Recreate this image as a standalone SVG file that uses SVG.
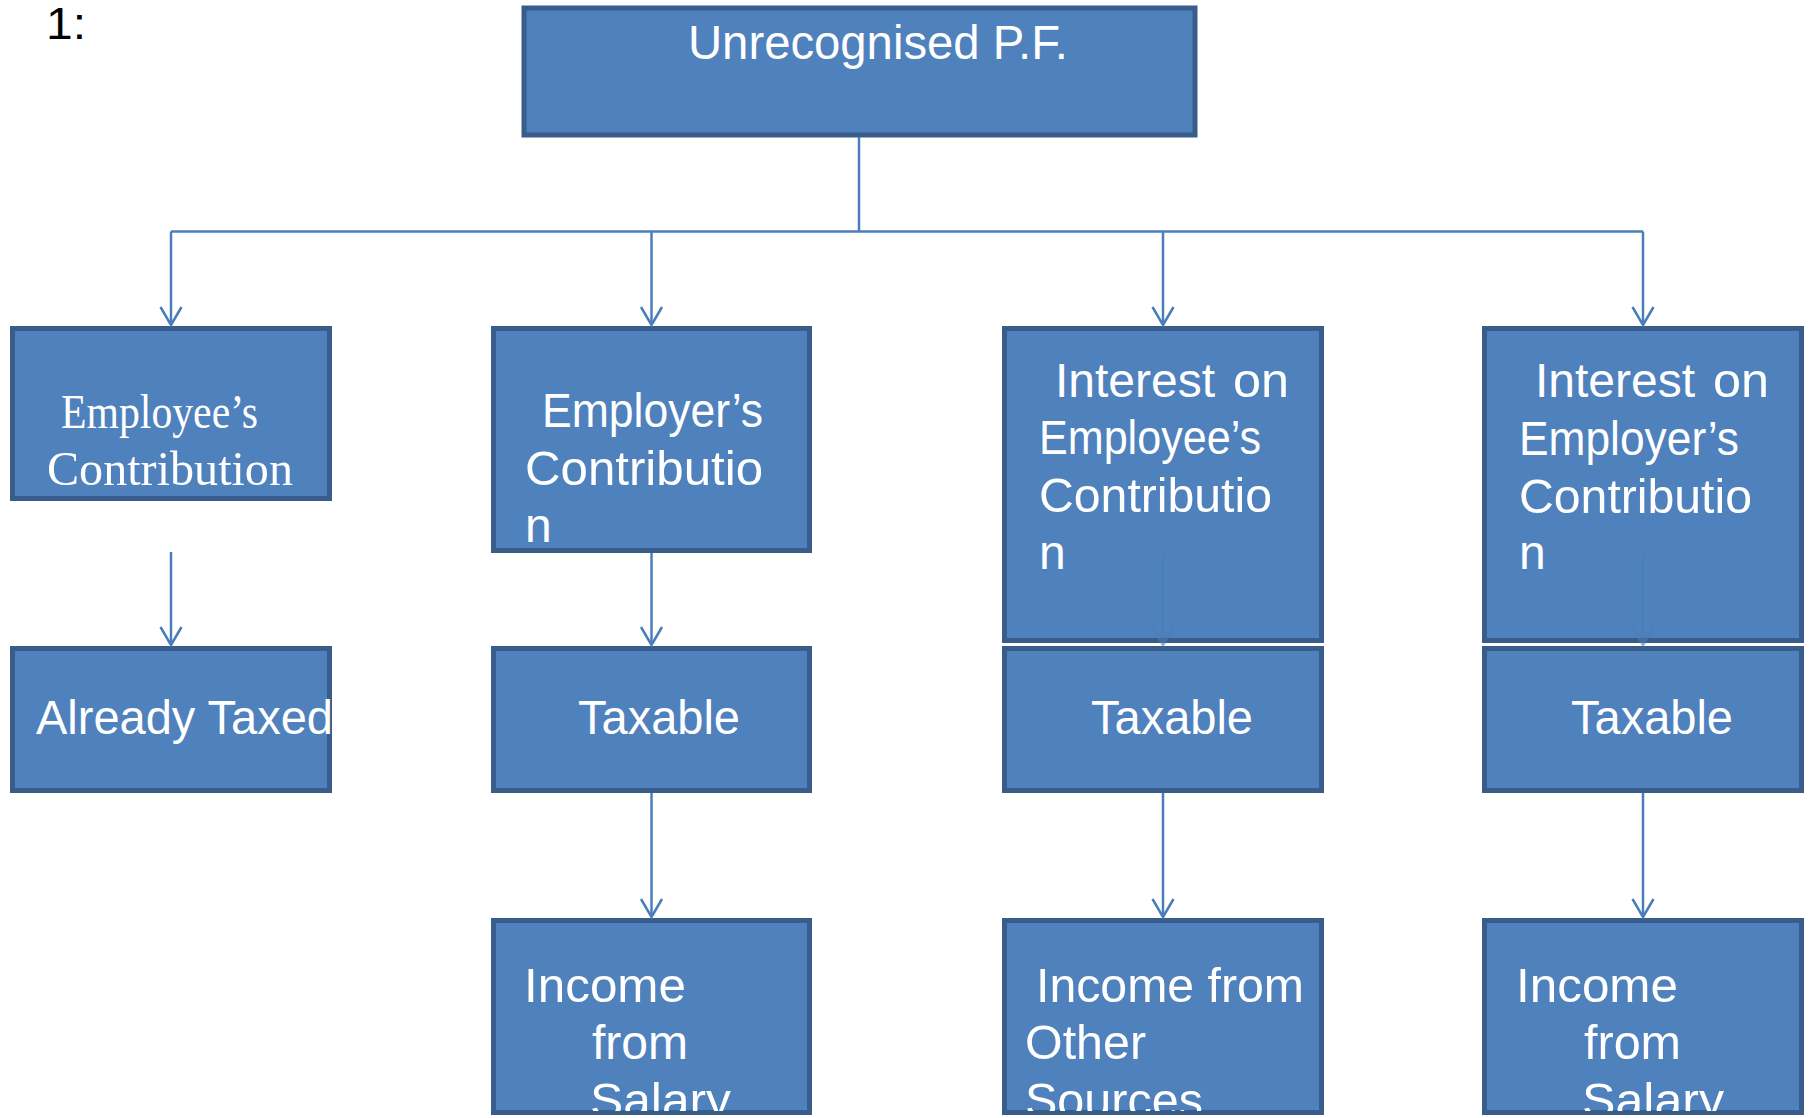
<svg xmlns="http://www.w3.org/2000/svg" width="1811" height="1118" viewBox="0 0 1811 1118">
  <defs>
    <style>
      .box { fill: #4F81BD; stroke: #385D8A; stroke-width: 5; }
      .t { fill: #FFFFFF; font-family: "Liberation Sans", Arial, sans-serif; font-size: 48px; }
      .ts { fill: #FFFFFF; font-family: "Liberation Serif", "Times New Roman", serif; font-size: 48px; }
      .conn { fill: none; stroke: #4A7EBB; stroke-width: 2.5; }
      .label { fill: #000000; font-family: "Liberation Sans", Arial, sans-serif; font-size: 44px; }
    </style>
    <marker id="arrow" markerUnits="userSpaceOnUse" viewBox="-22 -14 26 28" markerWidth="26" markerHeight="28" refX="0" refY="0" orient="auto" overflow="visible">
      <path d="M-18,-10.5 L0,0 L-18,10.5" fill="none" stroke="#4A7EBB" stroke-width="2.5"/>
    </marker>
    <clipPath id="clipBottom">
      <rect x="0" y="0" width="1811" height="1111"/>
    </clipPath>
  </defs>

  <rect x="0" y="0" width="1811" height="1118" fill="#FFFFFF"/>

  <text class="label" x="46" y="39" textLength="40" lengthAdjust="spacingAndGlyphs">1:</text>

  <g id="node-root">
    <rect class="box" x="524" y="8" width="671" height="127"/>
    <text class="t" x="688" y="59" textLength="380" lengthAdjust="spacingAndGlyphs">Unrecognised P.F.</text>
  </g>

  <g id="node-employee-contribution">
    <rect class="box" x="12.5" y="328.5" width="317" height="170"/>
    <text class="ts" x="61" y="428" textLength="197" lengthAdjust="spacingAndGlyphs">Employee’s</text>
    <text class="ts" x="47" y="485" textLength="246" lengthAdjust="spacingAndGlyphs">Contribution</text>
  </g>

  <g id="node-employer-contribution">
    <rect class="box" x="493.5" y="328.5" width="316" height="222"/>
    <text class="t" x="542" y="427" textLength="221" lengthAdjust="spacingAndGlyphs">Employer’s</text>
    <text class="t" x="525" y="485" textLength="238" lengthAdjust="spacingAndGlyphs">Contributio</text>
    <text class="t" x="525" y="542">n</text>
  </g>

  <g id="node-interest-employee">
    <rect class="box" x="1004.5" y="328.5" width="317" height="312"/>
    <text class="t" y="397"><tspan x="1055" textLength="160" lengthAdjust="spacingAndGlyphs">Interest</tspan><tspan x="1233" textLength="56" lengthAdjust="spacingAndGlyphs">on</tspan></text>
    <text class="t" x="1039" y="454" textLength="222" lengthAdjust="spacingAndGlyphs">Employee’s</text>
    <text class="t" x="1039" y="512" textLength="233" lengthAdjust="spacingAndGlyphs">Contributio</text>
    <text class="t" x="1039" y="569">n</text>
  </g>

  <g id="node-interest-employer">
    <rect class="box" x="1484.5" y="328.5" width="317" height="312"/>
    <text class="t" y="397"><tspan x="1535" textLength="160" lengthAdjust="spacingAndGlyphs">Interest</tspan><tspan x="1713" textLength="56" lengthAdjust="spacingAndGlyphs">on</tspan></text>
    <text class="t" x="1519" y="455" textLength="220" lengthAdjust="spacingAndGlyphs">Employer’s</text>
    <text class="t" x="1519" y="513" textLength="233" lengthAdjust="spacingAndGlyphs">Contributio</text>
    <text class="t" x="1519" y="569">n</text>
  </g>

  <g id="node-already-taxed">
    <rect class="box" x="12.5" y="648.5" width="317" height="142"/>
    <text class="t" x="36" y="734" textLength="297" lengthAdjust="spacingAndGlyphs">Already Taxed</text>
  </g>

  <g id="node-taxable-1">
    <rect class="box" x="493.5" y="648.5" width="316" height="142"/>
    <text class="t" x="578" y="734" textLength="162" lengthAdjust="spacingAndGlyphs">Taxable</text>
  </g>

  <g id="node-taxable-2">
    <rect class="box" x="1004.5" y="648.5" width="317" height="142"/>
    <text class="t" x="1091" y="734" textLength="162" lengthAdjust="spacingAndGlyphs">Taxable</text>
  </g>

  <g id="node-taxable-3">
    <rect class="box" x="1484.5" y="648.5" width="317" height="142"/>
    <text class="t" x="1571" y="734" textLength="162" lengthAdjust="spacingAndGlyphs">Taxable</text>
  </g>

  <g id="node-income-salary-1">
    <rect class="box" x="493.5" y="920.5" width="316" height="192"/>
    <g clip-path="url(#clipBottom)">
      <text class="t" x="524" y="1002" textLength="162" lengthAdjust="spacingAndGlyphs">Income</text>
      <text class="t" x="592" y="1059" textLength="96" lengthAdjust="spacingAndGlyphs">from</text>
      <text class="t" x="590" y="1117" textLength="141" lengthAdjust="spacingAndGlyphs">Salary</text>
    </g>
  </g>

  <g id="node-income-other-sources">
    <rect class="box" x="1004.5" y="920.5" width="317" height="192"/>
    <g clip-path="url(#clipBottom)">
      <text class="t" x="1036" y="1002" textLength="268" lengthAdjust="spacingAndGlyphs">Income from</text>
      <text class="t" x="1025" y="1059" textLength="121" lengthAdjust="spacingAndGlyphs">Other</text>
      <text class="t" x="1025" y="1117" textLength="178" lengthAdjust="spacingAndGlyphs">Sources</text>
    </g>
  </g>

  <g id="node-income-salary-2">
    <rect class="box" x="1484.5" y="920.5" width="317" height="192"/>
    <g clip-path="url(#clipBottom)">
      <text class="t" x="1516" y="1002" textLength="162" lengthAdjust="spacingAndGlyphs">Income</text>
      <text class="t" x="1584" y="1059" textLength="97" lengthAdjust="spacingAndGlyphs">from</text>
      <text class="t" x="1582" y="1117" textLength="142" lengthAdjust="spacingAndGlyphs">Salary</text>
    </g>
  </g>

  <g id="connectors">
    <path class="conn" d="M859,137 V231.5"/>
    <path class="conn" d="M171,231.5 H1643"/>
    <path class="conn" d="M171,231.5 V325" marker-end="url(#arrow)"/>
    <path class="conn" d="M651.5,231.5 V325" marker-end="url(#arrow)"/>
    <path class="conn" d="M1163,231.5 V325" marker-end="url(#arrow)"/>
    <path class="conn" d="M1643,231.5 V325" marker-end="url(#arrow)"/>
    <path class="conn" d="M171,552 V645" marker-end="url(#arrow)"/>
    <path class="conn" d="M651.5,553 V645" marker-end="url(#arrow)"/>
    <path class="conn" d="M1163,553 V645" marker-end="url(#arrow)" opacity="0.6"/>
    <path class="conn" d="M1643,553 V645" marker-end="url(#arrow)" opacity="0.6"/>
    <path class="conn" d="M651.5,793 V917" marker-end="url(#arrow)"/>
    <path class="conn" d="M1163,793 V917" marker-end="url(#arrow)"/>
    <path class="conn" d="M1643,793 V917" marker-end="url(#arrow)"/>
  </g>
</svg>
